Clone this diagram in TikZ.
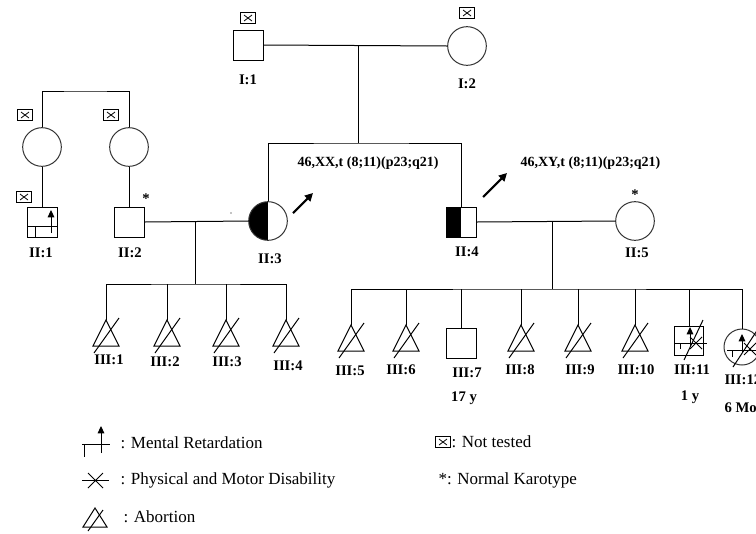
\documentclass[tikz,border=0pt]{standalone}
\usepackage{fontspec}
\setmainfont{Liberation Serif}
\usetikzlibrary{arrows.meta}
\newcommand\xboxsym[2]{%
  \draw[line width=1.1pt] (#1-7.5,#2-5.5) rectangle (#1+7.5,#2+5.5);
  \draw[line width=0.6pt] (#1-4,#2-3) -- (#1+4,#2+3) (#1-4,#2+3) -- (#1+4,#2-3);}
\newcommand\abortsym[3]{%
  \coordinate (#3) at (#1,#2);
  \draw (#3) -- (#1-13,#2+26) -- (#1+13,#2+26) -- cycle;
  \draw (#1-12,#2+33) -- (#1+13,#2-2);}
\begin{document}
\begin{tikzpicture}[x=0.75pt,y=-0.75pt,line width=0.75pt,
  sq/.style={draw,rectangle,minimum size=22.5pt,inner sep=0pt},
  ci/.style={draw=black!80,circle,minimum size=29pt,inner sep=0pt},
  halffill/.style={path picture={\fill[black] (path picture bounding box.south west) rectangle (path picture bounding box.north);}},
  lbl/.style={font=\bfseries\fontsize{11}{13}\selectfont,inner sep=0pt},
  kar/.style={font=\bfseries\fontsize{10.5}{12}\selectfont,inner sep=0pt,anchor=west},
  leg/.style={font=\fontsize{12.75}{15}\selectfont,inner sep=0pt,anchor=west},
  star/.style={font=\bfseries\fontsize{11}{13}\selectfont,inner sep=0pt},
  karrow/.style={line width=1.6pt,-{Triangle[length=6pt,width=6pt]}},
  mrarrow/.style={-{Triangle[length=5.5pt,width=5pt]}}]
\useasboundingbox (0,0) rectangle (756,533);

% generation I
\node[sq] (I1) at (248,45) {};
\node[ci] (I2) at (467,46) {};
\xboxsym{248}{18}
\xboxsym{467}{13}
\node[lbl] (lI1) at (248,80) {I:1};
\node[lbl] (lI2) at (467,84) {I:2};
\draw (I1.east) -- (I2.west);
\coordinate (m1) at (358,46);
\coordinate (s1) at (358,143);
\draw (m1) -- (s1);

% left grandparents (other side)
\node[ci] (GL) at (42,147) {};
\node[ci] (GR) at (129,147) {};
\xboxsym{25}{115}
\xboxsym{111}{115}
\coordinate (gtop) at (85,91);
\draw (GL.north) |- (gtop) -| (GR.north);

% generation II
\node[sq] (II1) at (42,222) {};
\node[sq] (II2) at (129,222) {};
\node[ci,halffill] (II3) at (268,221) {};
\node[sq,halffill] (II4) at (461,222) {};
\node[ci] (II5) at (635,221) {};
\xboxsym{24}{197}
\node[star] (st1) at (146,199) {*};
\node[star] (st2) at (635,195) {*};
\fill (231,213) circle (0.7);
% MR symbol in II:1
\draw (27,226) -- (58,226);
\draw (35,226) -- (35,237);
\draw[mrarrow] (51,233) -- (51,210);

\node[lbl] (lII1) at (41,253) {II:1};
\node[lbl] (lII2) at (130,253) {II:2};
\node[lbl] (lII3) at (270,259) {II:3};
\node[lbl] (lII4) at (467,252) {II:4};
\node[lbl] (lII5) at (637,253) {II:5};

\draw (GL.south) -- (II1.north);
\draw (GR.south) -- (II2.north);
\draw (II3.north) |- (s1) -| (II4.north);
\draw (II2.east) -- (II3.west);
\draw (II4.east) -- (II5.west);

% karyotype arrows and texts
\coordinate (a1s) at (293,213); \coordinate (a1e) at (313,193);
\coordinate (a2s) at (483,197); \coordinate (a2e) at (507,173);
\draw[karrow] (a1s) -- (a1e);
\draw[karrow] (a2s) -- (a2e);
\node[kar] (k1) at (297,163) {46,XX,t (8;11)(p23;q21)};
\node[kar] (k2) at (520,163) {46,XY,t (8;11)(p23;q21)};

% children of II:2 and II:3
\coordinate (m2) at (195,221);
\coordinate (s2) at (195,284);
\draw (m2) -- (s2);
\abortsym{106}{320}{A1}
\abortsym{167}{320}{A2}
\abortsym{226}{320}{A3}
\abortsym{286}{320}{A4}
\draw (A1) |- (s2) -| (A4);
\draw (A2) -- (A2 |- s2);
\draw (A3) -- (A3 |- s2);
\node[lbl] (lIII1) at (109,360) {III:1};
\node[lbl] (lIII2) at (165,362) {III:2};
\node[lbl] (lIII3) at (227,362) {III:3};
\node[lbl] (lIII4) at (288,366) {III:4};

% children of II:4 and II:5
\coordinate (m3) at (552,221);
\coordinate (s3) at (552,289);
\draw (m3) -- (s3);
\abortsym{351}{325}{B5}
\abortsym{406}{325}{B6}
\node[sq] (III7) at (461,343) {};
\abortsym{521}{325}{B8}
\abortsym{578}{325}{B9}
\abortsym{635}{325}{B10}
\node[sq,minimum size=21.5pt] (III11) at (689,341) {};
\node[ci,minimum size=27pt] (III12) at (742,347) {};
\draw (B5) |- (s3) -| (III12.north);
\draw (B6) -- (B6 |- s3);
\draw (III7.north) -- (III7.north |- s3);
\draw (B8) -- (B8 |- s3);
\draw (B9) -- (B9 |- s3);
\draw (B10) -- (B10 |- s3);
\draw (III11.north) -- (III11.north |- s3);

% symbols inside III:11
\draw (675,343) -- (707,343);
\draw (680,343) -- (680,349);
\draw[mrarrow] (690,346) -- (690,327);
\draw (690,337) -- (702,349) (690,349) -- (702,337);
\draw (684,360) -- (703,320);
% symbols inside III:12
\draw (727,350) -- (760,350);
\draw (732,350) -- (732,357);
\draw[mrarrow] (742,352) -- (742,334);
\draw (744,343) -- (756,355) (744,355) -- (756,343);
\draw (733,367) -- (758,329);

\node[lbl] (lIII5) at (350,371) {III:5};
\node[lbl] (lIII6) at (401,370) {III:6};
\node[lbl] (lIII7) at (467,373) {III:7};
\node[lbl] (lIII8) at (520,370) {III:8};
\node[lbl] (lIII9) at (580,370) {III:9};
\node[lbl] (lIII10) at (636,370) {III:10};
\node[lbl] (lIII11) at (692,370) {III:11};
\node[lbl,anchor=west] (lIII12) at (724,380) {III:12};
\node[lbl] (age7) at (464,398) {17 y};
\node[lbl] (age11) at (690,397) {1 y};
\node[lbl,anchor=west] (age12) at (724,407) {6 Months};

% legend
\draw (82,444) -- (110,444);
\draw (84,444) -- (84,457);
\draw[mrarrow] (101,453) -- (101,426);
\node[leg] (t1) at (120,443) {: Mental Retardation};
\draw (82,480) -- (109,480);
\draw (88,473) -- (103,488) (88,488) -- (103,473);
\node[leg] (t2) at (120,480) {: Physical and Motor Disability};
\draw (95,508) -- (83,527) -- (107,527) -- cycle;
\draw (88,531) -- (103,510);
\node[leg] (t3) at (123,517) {: Abortion};
\xboxsym{443}{442}
\node[leg] (t4) at (451,442) {: Not tested};
\node[leg] (t5) at (438,480) {*: Normal Karotype};
\end{tikzpicture}
\end{document}
